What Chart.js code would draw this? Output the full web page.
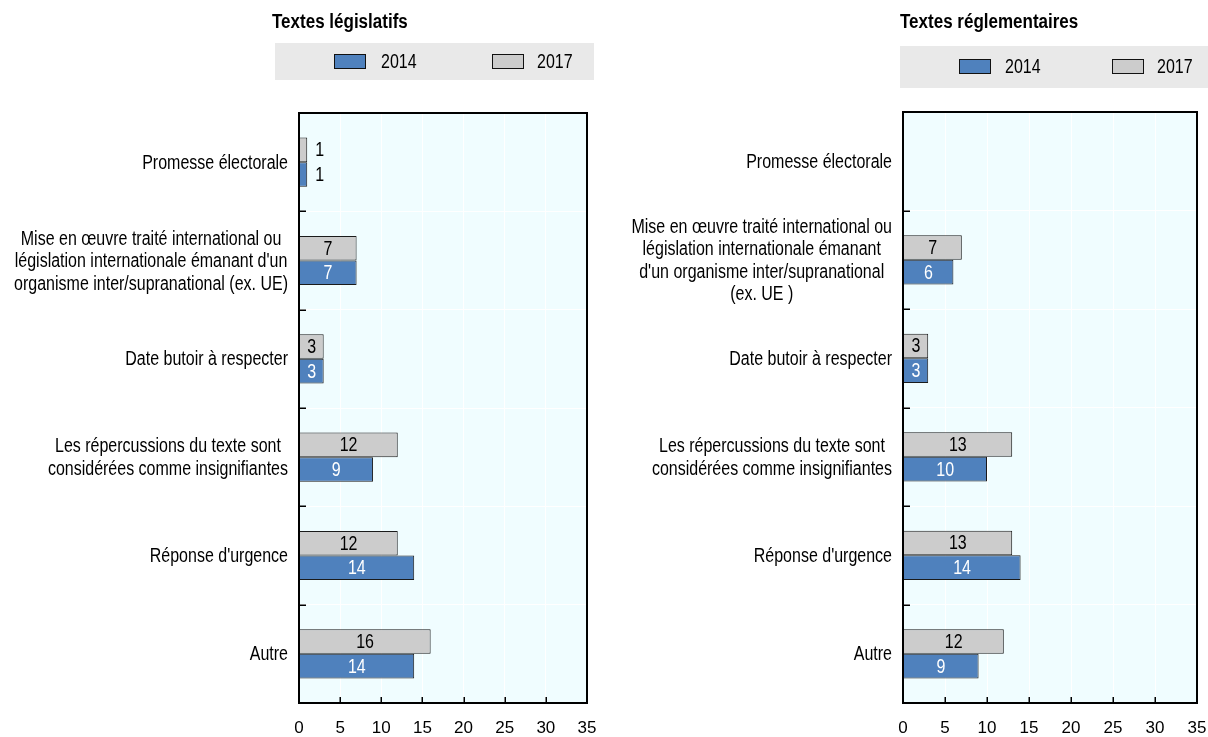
<!DOCTYPE html>
<html>
<head>
<meta charset="utf-8">
<script src="https://cdn.jsdelivr.net/npm/chart.js@4"></script>
<style>
  html, body { margin: 0; padding: 0; background: #ffffff; }
  #wrap { position: relative; width: 1208px; height: 737px; overflow: hidden; }
  .panel { position: absolute; top: 0; width: 604px; height: 737px; }
</style>
</head>
<body>
<div id="wrap">
  <div class="panel" style="left:0"><canvas id="chartLeg" width="604" height="737"></canvas></div>
  <div class="panel" style="left:604px"><canvas id="chartReg" width="604" height="737"></canvas></div>
</div>
<script>
// ---- data ----
const categoriesLeg = [
  ['Promesse électorale'],
  ['Mise en œuvre traité international ou', "législation internationale émanant d'un", 'organisme inter/supranational (ex. UE)'],
  ['Date butoir à respecter'],
  ['Les répercussions du texte sont', 'considérées comme insignifiantes'],
  ["Réponse d'urgence"],
  ['Autre']
];
const categoriesReg = [
  ['Promesse électorale'],
  ['Mise en œuvre traité international ou', 'législation internationale émanant', "d'un organisme inter/supranational", '(ex. UE )'],
  ['Date butoir à respecter'],
  ['Les répercussions du texte sont', 'considérées comme insignifiantes'],
  ["Réponse d'urgence"],
  ['Autre']
];
const seriesNames = ['2014', '2017'];
const leg2014 = [1, 7, 3, 9, 14, 14];
const leg2017 = [1, 7, 3, 12, 12, 16];
const reg2014 = [null, 6, 3, 10, 14, 9];
const reg2017 = [null, 7, 3, 13, 13, 12];
const xMin = 0, xMax = 35, xStep = 5;

// ---- styling ----
const FONT_R = "'Liberation Sans', Arial, sans-serif";
const NARROW = 0.8;            // horizontal squeeze giving a narrow sans look
const COL_2014 = '#4f81bd';
const COL_2017 = '#cccccc';
const PLOT_BG = '#f0fdff';

// draws condensed text: the glyphs are squeezed horizontally around x
function narrowText(ctx, txt, x, y, align, squeeze) {
  ctx.save();
  ctx.translate(x, y);
  ctx.scale(squeeze, 1);
  ctx.textAlign = align;
  ctx.fillText(txt, 0, 0);
  ctx.restore();
}

function decorPlugin(cfg) {
  return {
    id: 'panelDecor',
    beforeDraw(chart) {
      const { ctx, chartArea: a } = chart;
      ctx.save();
      // plot background
      ctx.fillStyle = PLOT_BG;
      ctx.fillRect(a.left, a.top, a.right - a.left, a.bottom - a.top);
      // panel title
      ctx.fillStyle = '#000';
      ctx.font = 'bold 20px ' + FONT_R;
      ctx.textBaseline = 'middle';
      narrowText(ctx, cfg.title, cfg.titleX, cfg.titleY, 'left', 0.85);
      // legend strip
      ctx.fillStyle = '#e9e9e9';
      ctx.fillRect(cfg.legendBox[0], cfg.legendBox[1], cfg.legendBox[2], cfg.legendBox[3]);
      ctx.font = '20px ' + FONT_R;
      cfg.legendOrder.forEach((di, k) => {
        const ds = chart.data.datasets[di];
        const sx = cfg.swatchX[k], sy = cfg.swatchY;
        ctx.fillStyle = ds.backgroundColor;
        ctx.fillRect(sx, sy, 32, 15);
        ctx.strokeStyle = '#111';
        ctx.lineWidth = 1;
        ctx.strokeRect(sx + 0.5, sy + 0.5, 31, 14);
        ctx.fillStyle = '#000';
        narrowText(ctx, ds.label, cfg.legendTextX[k], sy + 8, 'left', NARROW);
      });
      ctx.restore();
    },
    afterDatasetsDraw(chart) {
      const { ctx, chartArea: a, scales } = chart;
      const ys = scales.y, xs = scales.x;
      ctx.save();
      // frame
      ctx.strokeStyle = '#000';
      ctx.lineWidth = 2;
      ctx.strokeRect(a.left, a.top, a.right - a.left, a.bottom - a.top);
      // inward tick marks on the category axis (between categories)
      ctx.lineWidth = 1.5;
      const n = chart.data.labels.length;
      for (let i = 0; i < n - 1; i++) {
        const y = Math.round((ys.getPixelForValue(i) + ys.getPixelForValue(i + 1)) / 2) + 0.25;
        ctx.beginPath();
        ctx.moveTo(a.left, y);
        ctx.lineTo(a.left + 7, y);
        ctx.stroke();
      }
      // inward tick marks on the value axis
      for (let v = xMin + xStep; v < xMax; v += xStep) {
        const x = Math.round(xs.getPixelForValue(v)) + 0.25;
        ctx.beginPath();
        ctx.moveTo(x, a.bottom);
        ctx.lineTo(x, a.bottom - 6);
        ctx.stroke();
      }
      // category labels, centred block right-aligned against the axis
      ctx.fillStyle = '#000';
      ctx.font = '20px ' + FONT_R;
      ctx.textBaseline = 'middle';
      const lh = 22.5;
      chart.data.labels.forEach((lines, i) => {
        const cy = ys.getPixelForValue(i);
        const w = Math.max(...lines.map(t => ctx.measureText(t).width)) * NARROW;
        const cx = a.left - 11 - w / 2;
        lines.forEach((t, j) => {
          narrowText(ctx, t, cx, cy + (j - (lines.length - 1) / 2) * lh + 1, 'center', NARROW);
        });
      });
      // value labels
      chart.data.datasets.forEach((ds, di) => {
        const meta = chart.getDatasetMeta(di);
        meta.data.forEach((bar, i) => {
          const v = ds.data[i];
          if (v === null || v === undefined) return;
          const txt = String(v);
          const tw = ctx.measureText(txt).width * NARROW;
          const len = Math.abs(bar.x - bar.base);
          if (tw + 6 > len) {
            ctx.fillStyle = '#000';
            narrowText(ctx, txt, bar.x + 8, bar.y + 1, 'left', NARROW);
          } else {
            ctx.fillStyle = ds.labelColor;
            narrowText(ctx, txt, (bar.x + bar.base) / 2, bar.y + 1, 'center', NARROW);
          }
        });
      });
      ctx.restore();
    }
  };
}

function makeChart(id, labels, d2014, d2017, cfg) {
  return new Chart(document.getElementById(id), {
    type: 'bar',
    data: {
      labels: labels,
      datasets: [
        { label: seriesNames[1], data: d2017, backgroundColor: COL_2017, borderColor: '#1a1a1a', borderWidth: 1, labelColor: '#000' },
        { label: seriesNames[0], data: d2014, backgroundColor: COL_2014, borderColor: '#1a1a1a', borderWidth: 1, labelColor: '#fff' }
      ]
    },
    options: {
      indexAxis: 'y',
      responsive: false,
      animation: false,
      devicePixelRatio: 1,
      events: [],
      categoryPercentage: 0.5,
      barPercentage: 1.0,
      layout: { padding: { left: 0, right: cfg.padRight, top: cfg.padTop, bottom: 0 } },
      plugins: { legend: { display: false }, tooltip: { enabled: false }, title: { display: false } },
      scales: {
        y: {
          type: 'category',
          ticks: { display: false },
          grid: { color: '#ffffff', lineWidth: 1, drawTicks: false, offset: true },
          border: { display: false },
          afterFit(scale) { scale.width = 299; scale.paddingTop = 0; scale.paddingBottom = 0; }
        },
        x: {
          type: 'linear',
          min: xMin, max: xMax,
          ticks: { stepSize: xStep, color: '#000', font: { family: FONT_R, size: 17 }, padding: 15, maxRotation: 0 },
          grid: { color: '#ffffff', lineWidth: 1, drawTicks: false },
          border: { display: false },
          afterFit(scale) { scale.height = 34; scale.paddingLeft = 0; scale.paddingRight = 0; }
        }
      }
    },
    plugins: [decorPlugin(cfg)]
  });
}

makeChart('chartLeg', categoriesLeg, leg2014, leg2017, {
  title: 'Textes législatifs', titleX: 272, titleY: 22,
  legendBox: [275, 43, 319, 37],
  legendOrder: [1, 0],
  swatchX: [334, 492], swatchY: 54,
  legendTextX: [381, 537],
  padRight: 17, padTop: 113
});

makeChart('chartReg', categoriesReg, reg2014, reg2017, {
  title: 'Textes réglementaires', titleX: 296, titleY: 22,
  legendBox: [296, 46, 308, 42],
  legendOrder: [1, 0],
  swatchX: [355, 508], swatchY: 59,
  legendTextX: [401, 553],
  padRight: 11, padTop: 112
});
</script>
</body>
</html>
